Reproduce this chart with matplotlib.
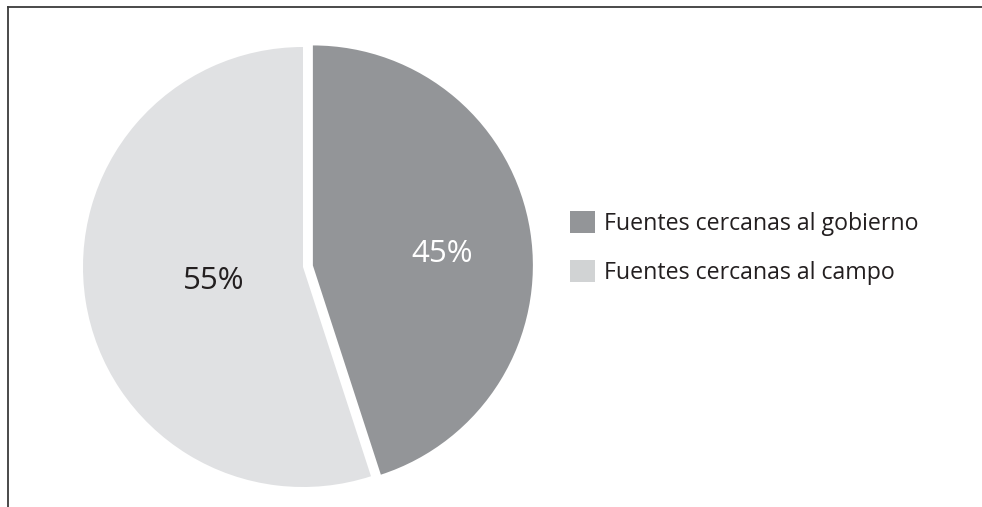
import matplotlib
matplotlib.use("Agg")
import matplotlib.pyplot as plt
from matplotlib.lines import Line2D
from matplotlib.patches import Patch
import numpy as np

categories = ["Fuentes cercanas al gobierno", "Fuentes cercanas al campo"]
values = [45, 55]
pct_labels = ["45%", "55%"]
slice_colors = ["#939598", "#e0e1e3"]
legend_colors = ["#939598", "#d1d3d4"]
label_colors = ["white", "#231f20"]

plt.rcParams['font.family'] = ['Open Sans', 'DejaVu Sans']

W, H = 982, 507
fig = plt.figure(figsize=(W / 100, H / 100), dpi=100)
ax = fig.add_axes([0, 0, 1, 1])

cx, cy, R = 303, H - 267, 220
wedges, _ = ax.pie(values, colors=slice_colors, startangle=90, counterclock=False,
                   explode=[10, 0], center=(cx, cy), radius=R, frame=True,
                   wedgeprops=dict(linewidth=0))
ax.set_xlim(0, W)
ax.set_ylim(0, H)
ax.set_axis_off()

dists = [0.59, 0.41]
angle_shift = [-4, 0]
for w, lab, col, d, sh in zip(wedges, pct_labels, label_colors, dists, angle_shift):
    th = np.deg2rad((w.theta1 + w.theta2) / 2 + sh)
    x = w.center[0] + d * w.r * np.cos(th)
    y = w.center[1] + d * w.r * np.sin(th)
    ax.text(x, y, lab, ha='center', va='center', fontsize=22.5, color=col)

handles = [Patch(facecolor=c, edgecolor='none') for c in legend_colors]
leg = fig.legend(handles, categories, loc='center left', bbox_to_anchor=(570 / W, 1 - 248 / H),
                 frameon=False, fontsize=16.7, handlelength=1.08, handleheight=1.08,
                 handletextpad=0.4, labelspacing=1.05, labelcolor='#231f20',
                 borderpad=0, borderaxespad=0)

fig.add_artist(Line2D([8 / W, 1], [1 - 7 / H, 1 - 7 / H], color='#3c3c3c', lw=1.3,
                      transform=fig.transFigure))
fig.add_artist(Line2D([8 / W, 8 / W], [0, 1 - 7 / H], color='#3c3c3c', lw=1.3,
                      transform=fig.transFigure))

fig.savefig("out.png", dpi=100)
